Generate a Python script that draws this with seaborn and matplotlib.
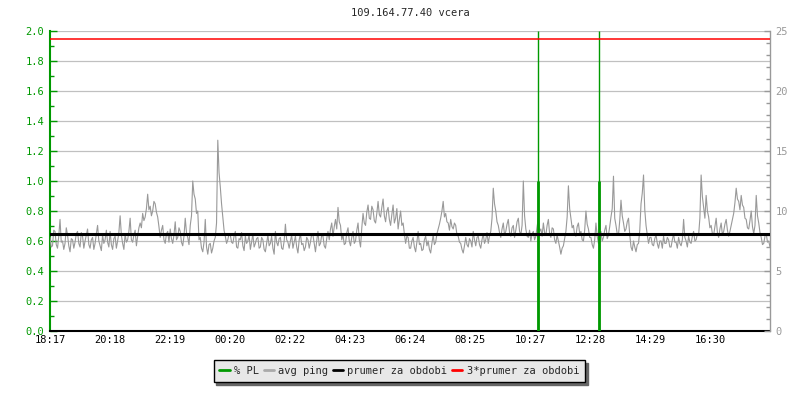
import numpy as np
import pandas as pd
import seaborn as sns
import matplotlib.pyplot as plt
from matplotlib.lines import Line2D
from matplotlib.ticker import MultipleLocator

# Chart data
title = "109.164.77.40 vcera"
span_minutes = 1454  # 18:17 until about 18:31 the next day
tick_labels = ["18:17", "20:18", "22:19", "00:20", "02:22", "04:23",
               "06:24", "08:25", "10:27", "12:28", "14:29", "16:30"]

# avg ping in ms, a sample about every 2.5 minutes (one row = one hour)
ping_ms = [
    7.8, 7.0, 7.1, 8.4, 8.3, 7.2, 6.9, 7.9, 9.3, 7.4, 7.5, 6.8, 7.3, 8.6, 8.0, 7.1, 6.6, 7.7, 7.6, 6.9, 7.4, 8.1, 8.3, 7.3,
    7.0, 8.2, 7.9, 6.9, 7.5, 8.0, 8.5, 7.2, 6.9, 7.6, 7.8, 6.8, 7.3, 8.1, 8.8, 7.5, 7.1, 6.7, 8.0, 7.3, 7.6, 8.4, 7.4, 7.0,
    8.3, 7.2, 6.8, 7.7, 7.9, 6.9, 7.5, 8.2, 9.6, 8.0, 7.3, 6.8, 8.1, 7.4, 7.6, 8.3, 9.4, 7.6, 7.4, 8.0, 8.4, 7.1, 7.9, 8.6,
    9.0, 8.6, 9.8, 9.2, 9.5, 10.2, 11.4, 10.1, 10.4, 9.6, 10.0, 10.8, 10.6, 9.9, 9.5, 8.7, 7.8, 8.4, 8.8, 7.6, 7.3, 8.1, 8.3, 7.4,
    8.5, 7.7, 7.3, 8.0, 9.1, 7.6, 7.8, 8.6, 8.3, 7.4, 7.1, 7.9, 9.4, 8.2, 7.8, 7.2, 8.8, 9.6, 12.5, 11.4, 11.0, 9.8, 10.0, 7.6,
    7.8, 6.9, 6.6, 7.4, 9.3, 7.0, 6.4, 7.2, 7.3, 6.5, 6.9, 7.5, 7.8, 9.0, 15.9, 13.2, 12.0, 10.6, 9.5, 8.4, 7.9, 7.3, 7.6, 8.1,
    8.0, 7.4, 7.3, 7.9, 8.3, 7.0, 6.9, 7.7, 7.6, 8.2, 7.1, 6.7, 7.9, 7.3, 7.5, 8.0, 6.8, 7.4, 8.1, 7.0, 7.3, 7.7, 7.8, 6.9,
    7.0, 7.8, 7.6, 6.8, 6.6, 7.3, 8.0, 7.1, 7.3, 7.9, 6.9, 6.4, 8.3, 7.4, 7.1, 7.7, 7.8, 6.9, 6.8, 7.5, 8.9, 7.6, 7.4, 6.9,
    7.5, 8.0, 6.9, 7.4, 7.9, 7.0, 6.5, 7.6, 8.1, 7.2, 7.3, 6.7, 7.0, 7.8, 7.6, 6.9, 7.4, 8.1, 8.0, 7.3, 6.6, 7.5, 8.3, 7.1,
    7.3, 8.0, 7.9, 7.1, 6.9, 7.7, 8.3, 7.6, 8.5, 9.0, 7.9, 8.7, 9.3, 8.5, 10.3, 9.1, 8.8, 7.6, 8.0, 7.2, 7.3, 8.2, 8.6, 7.5,
    7.1, 7.8, 8.3, 7.3, 7.5, 8.4, 9.0, 7.6, 7.0, 8.6, 9.8, 9.0, 8.8, 9.9, 10.5, 9.4, 9.3, 10.4, 10.1, 9.2, 9.0, 9.8, 10.8, 9.7,
    9.5, 10.3, 11.0, 9.6, 9.1, 10.0, 10.3, 9.3, 8.8, 9.7, 10.5, 9.0, 9.4, 10.2, 8.5, 9.3, 10.0, 8.8, 9.0, 8.1, 7.3, 7.9, 7.8, 6.9,
    6.9, 7.5, 7.8, 7.0, 6.6, 7.4, 8.3, 7.2, 7.3, 6.7, 6.8, 7.6, 7.9, 7.1, 7.5, 6.8, 6.5, 7.3, 8.0, 7.2, 7.4, 8.1, 8.5, 8.9,
    9.4, 10.0, 10.8, 9.5, 9.8, 9.1, 9.0, 8.4, 9.3, 8.7, 8.5, 9.0, 8.8, 8.0, 7.9, 7.4, 7.3, 6.8, 6.5, 7.1, 7.8, 7.2, 7.0, 7.7,
    7.5, 7.0, 8.3, 7.6, 7.1, 7.8, 7.9, 7.2, 6.9, 7.6, 8.1, 7.3, 7.6, 8.2, 7.3, 7.9, 8.3, 9.4, 11.9, 10.6, 10.0, 9.1, 8.8, 8.2,
    7.8, 8.5, 9.0, 8.0, 8.3, 8.9, 9.3, 8.2, 7.9, 8.6, 8.8, 7.8, 8.4, 9.1, 9.4, 8.3, 8.0, 8.8, 12.5, 9.6, 8.5, 7.9, 7.8, 8.4,
    7.5, 8.1, 8.3, 7.6, 7.9, 8.7, 9.4, 8.3, 8.5, 7.9, 9.0, 8.2, 8.0, 8.8, 9.3, 8.1, 7.8, 8.6, 8.5, 7.6, 7.3, 8.0, 7.5, 7.0,
    6.4, 6.9, 7.1, 7.7, 8.3, 9.5, 12.1, 10.2, 9.4, 8.6, 8.8, 8.0, 7.9, 8.7, 9.0, 8.1, 8.3, 7.6, 7.5, 8.4, 10.0, 8.9, 8.5, 7.8,
    7.8, 7.2, 6.9, 7.6, 9.0, 7.9, 7.3, 8.2, 8.3, 7.5, 7.8, 8.4, 8.8, 7.7, 8.0, 8.7, 9.5, 10.2, 12.9, 9.4, 8.8, 8.1, 8.0, 9.2,
    10.9, 9.6, 9.0, 8.3, 8.5, 9.1, 9.4, 8.0, 7.0, 6.7, 7.5, 7.0, 6.6, 7.2, 7.3, 8.4, 10.6, 11.5, 13.0, 10.1, 8.8, 8.0, 7.3, 7.8,
    7.8, 7.2, 7.1, 7.7, 8.0, 7.3, 6.9, 7.5, 7.5, 6.9, 7.9, 7.3, 7.3, 7.8, 7.6, 7.0, 7.0, 7.6, 8.1, 7.4, 7.4, 6.9, 7.8, 7.3,
    7.1, 7.6, 9.3, 7.8, 7.5, 7.0, 7.9, 7.4, 7.3, 7.9, 8.3, 7.5, 7.6, 8.1, 8.0, 9.4, 13.0, 11.2, 10.3, 9.4, 11.3, 10.0, 9.5, 8.6,
    8.8, 8.1, 8.0, 8.7, 9.4, 8.2, 7.8, 8.5, 9.0, 8.0, 8.3, 8.9, 9.3, 8.4, 7.9, 8.3, 8.8, 9.3, 9.8, 10.7, 11.9, 11.0, 10.8, 10.1,
    11.3, 10.5, 10.3, 9.4, 9.3, 8.6, 8.5, 9.2, 10.0, 8.7, 8.1, 8.8, 11.3, 9.6, 9.0, 8.2, 7.8, 7.2, 7.3, 7.9, 8.1, 7.4, 7.5, 7.0,
]
ping_mean_ms = 8.1

# packet loss events: minutes from start and loss in %
pl_minutes = [985, 1109]
pl_percent = [1.0, 1.0]

legend_labels = ["% PL", "avg ping", "prumer za obdobi", "3*prumer za obdobi"]

green = "#009900"
grey = "#999999"
font = "DejaVu Sans Mono"
fs = 7.5

sns.set_style("white")
plt.rcParams["font.family"] = [font, "DejaVu Sans"]

df = pd.DataFrame({
    "minute": np.linspace(0, span_minutes, len(ping_ms)),
    "ping": ping_ms,
})

fig = plt.figure(figsize=(8, 4), dpi=100)
ax_pl = fig.add_axes([0.0625, 0.1725, 0.9, 0.75])
ax_ping = ax_pl.twinx()

# left axis: % PL
ax_pl.set_xlim(0, span_minutes)
ax_pl.set_ylim(0, 2.0)
ax_pl.yaxis.set_major_locator(MultipleLocator(0.2))
ax_pl.yaxis.set_minor_locator(MultipleLocator(0.1))
ax_pl.yaxis.set_major_formatter(lambda v, p: f"{v:.1f}")
ax_pl.grid(axis="y", color="#c0c0c0", lw=0.9)
ax_pl.set_xticks(np.linspace(0, span_minutes, 13)[:-1])
ax_pl.set_xticklabels(tick_labels)
ax_pl.tick_params(axis="x", direction="in", length=5, width=1, pad=3,
                  colors="black", labelsize=fs)
ax_pl.tick_params(axis="y", which="major", direction="in", length=5, width=1,
                  pad=4, colors=green, labelsize=fs)
ax_pl.tick_params(axis="y", which="minor", direction="in", length=3, width=1,
                  colors=green, left=True)
ax_pl.spines["left"].set_color(green)
ax_pl.spines["left"].set_linewidth(1.5)
ax_pl.spines["bottom"].set_color("black")
ax_pl.spines["bottom"].set_linewidth(1.5)
ax_pl.spines["top"].set_visible(False)
ax_pl.spines["right"].set_visible(False)

# right axis: ping in ms
ax_ping.set_ylim(0, 25)
ax_ping.yaxis.set_major_locator(MultipleLocator(5))
ax_ping.yaxis.set_minor_locator(MultipleLocator(1))
ax_ping.tick_params(axis="y", which="major", direction="in", length=4, width=1,
                    pad=4, colors=grey, labelsize=fs)
ax_ping.tick_params(axis="y", which="minor", direction="in", length=3, width=1,
                    colors=grey, right=True)
for side in ["left", "top", "bottom"]:
    ax_ping.spines[side].set_visible(False)
ax_ping.spines["right"].set_color(grey)
ax_ping.spines["right"].set_linewidth(1)

sns.lineplot(data=df, x="minute", y="ping", ax=ax_ping, color=grey,
             lw=0.8, legend=False, zorder=2)
ax_ping.set_xlabel("")
ax_ping.set_ylabel("")
ax_pl.set_xlabel("")

# packet loss bars drawn in the ping axes with the % scale, so they sit above ping
ax_ping.vlines(pl_minutes, 0, 1, transform=ax_ping.get_xaxis_transform(),
               color=green, lw=1, zorder=3)
ax_ping.vlines(pl_minutes, 0, pl_percent, transform=ax_pl.transData,
               color=green, lw=2, zorder=3)

ax_ping.axhline(ping_mean_ms, color="black", lw=2.2, zorder=4)
ax_ping.axhline(3 * ping_mean_ms, color="red", lw=1.1, zorder=4)

fig.text(0.5125, 0.967, title, ha="center", va="center", fontsize=fs)

handles = [Line2D([], [], color=c, lw=2)
           for c in [green, "#aaaaaa", "black", "red"]]
fig.legend(handles, legend_labels, loc="center", bbox_to_anchor=(0.499, 0.0725),
           ncol=4, fontsize=fs, frameon=True, fancybox=False,
           facecolor="#e8e8e8", edgecolor="black", framealpha=1,
           shadow={"facecolor": "#666666", "edgecolor": "#666666", "alpha": 1},
           handlelength=1.0, handletextpad=0.4, columnspacing=0.45,
           borderpad=0.55, borderaxespad=0)

fig.savefig("out.png", dpi=100)
